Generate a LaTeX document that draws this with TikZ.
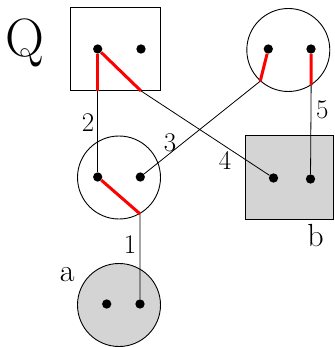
\documentclass[tikz,border=0pt]{standalone}
\usepackage{tikz}
\usetikzlibrary{positioning}
\begin{document}
\begin{tikzpicture}[x=1pt, y=-1pt,
  box/.style={draw, line width=0.9pt, minimum width=90pt, minimum height=83pt, inner sep=0pt},
  ball/.style={draw, circle, line width=0.9pt, minimum size=83pt, inner sep=0pt},
  dot/.style={circle, fill, minimum size=9.3pt, inner sep=0pt},
  wire/.style={line width=0.8pt},
  port/.style={red, line width=3pt},
  lbl/.style={font=\fontsize{27}{30}\selectfont, anchor=base},
  tag/.style={font=\fontsize{32}{36}\selectfont, anchor=base}
]
  \useasboundingbox (0,0) rectangle (334,347);
  % Shapes
  \node[box] (Q) at (115.3,49) {};
  \node[ball] (M) at (119,177.5) {};
  \node[ball] (T) at (288.3,50) {};
  \node[box, fill=black!17, minimum width=88pt, minimum height=84pt] (B) at (289.3,177) {};
  \node[ball, fill=black!17] (A) at (119,305) {};
  % Dots
  \foreach \n/\x/\y in {
    Q1/97.7/49, Q2/141/49, M1/97.7/177, M2/140.3/177,
    T1/268.3/49, T2/311/49, B1/273.5/178, B2/310.5/179,
    A1/106.7/304, A2/140/304
  }{
    \node[dot] (\n) at (\x,\y) {};
  }
  % Wires
  \draw[port] (Q1) -- (Q1 |- Q.south) coordinate (q1);
  \draw[wire] (q1) -- (M1);
  \draw[port] (Q1) -- (Q2 |- Q.south) coordinate (q2);
  \draw[wire] (q2) -- (B1);
  \draw[port] (M1) -- (M.-60);
  \draw[wire] (M.-60) -- (A2);
  \draw[wire] (M2) -- (T.228);
  \draw[port] (T.228) -- (T1);
  \draw[port] (T2) -- (T.-57);
  \draw[wire] (T.-57) -- (B2);
  % Labels
  \node[lbl] (l1) at (130,253.3) {1};
  \node[lbl] (l2) at (88,131.7) {2};
  \node[lbl] (l3) at (170,151.7) {3};
  \node[lbl] (l4) at (225,170) {4};
  \node[lbl] (l5) at (322.3,118.3) {5};
  \node[tag] (la) at (67.3,281.7) {a};
  \node[tag] (lb) at (315.5,246.7) {b};
  \node[tag, font=\fontsize{54}{60}\selectfont] (lq) at (25,56.7) {Q};
\end{tikzpicture}
\end{document}
